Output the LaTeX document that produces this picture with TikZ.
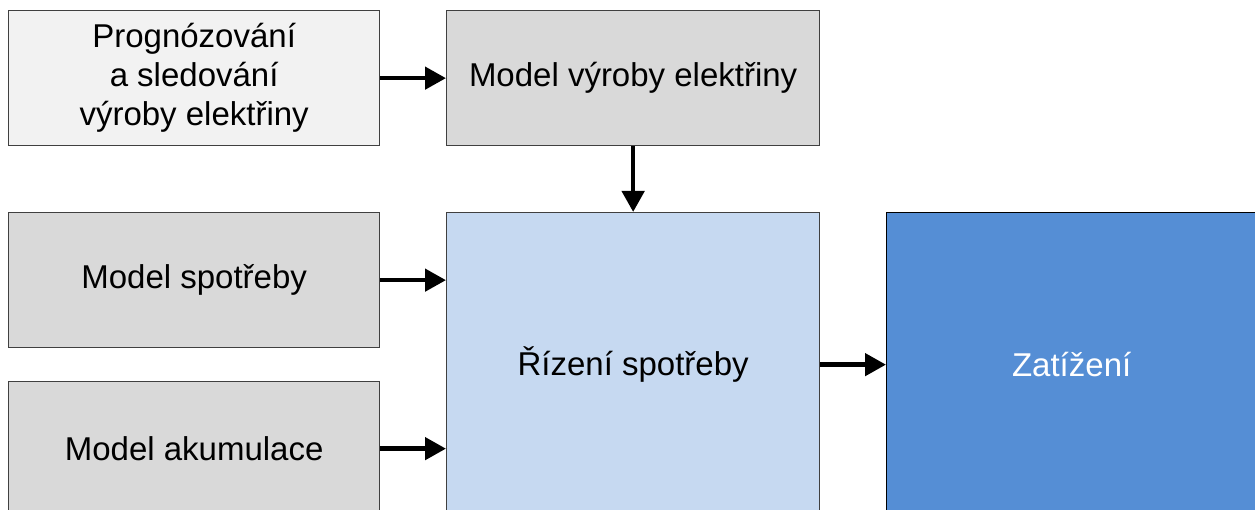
\documentclass[tikz,border=0pt]{standalone}
\usepackage{fontspec}
\setmainfont{Liberation Sans}
\usetikzlibrary{arrows.meta,positioning}
\definecolor{boxA}{HTML}{F2F2F2}
\definecolor{boxG}{HTML}{D9D9D9}
\definecolor{boxE}{HTML}{C6D9F1}
\definecolor{boxF}{HTML}{558ED5}
\definecolor{edgeC}{HTML}{404040}
\begin{document}
\begin{tikzpicture}[x=1pt,y=-1pt,
  blk/.style={draw=edgeC, line width=1.3pt, inner sep=0pt, minimum width=371pt,
    anchor=north west, align=center, font=\fontsize{33}{39}\selectfont},
  conn/.style={line width=4.6pt, -{Triangle[length=21pt,width=22pt]}}]
\useasboundingbox (0,0) rectangle (1255,510);
\clip (0,0) rectangle (1255,510);
\node[blk, fill=boxA, minimum height=135pt] (A) at (8,10) {Prognózování\\a sledování\\výroby elektřiny};
\node[blk, fill=boxG, minimum height=135pt, minimum width=373pt] (B) at (446,10) {Model výroby elektřiny};
\node[blk, fill=boxG, minimum height=135pt] (C) at (8,212) {Model spotřeby};
\node[blk, fill=boxG, minimum height=134pt] (D) at (8,381) {Model akumulace};
\node[blk, fill=boxE, minimum height=304pt, minimum width=373pt] (E) at (446,212) {Řízení spotřeby};
\node[blk, fill=boxF, draw=black, text=white, minimum height=304pt, minimum width=370pt] (F) at (886,212) {Zatížení};
\draw[conn] (A.east) -- (B.west);
\draw[conn] (B.south) -- (B.south |- E.north);
\draw[conn] (C.east) -- (C.east -| E.west);
\draw[conn] (D.east) -- (D.east -| E.west);
\draw[conn] (E.east |- F.west) -- (F.west);
\end{tikzpicture}
\end{document}
